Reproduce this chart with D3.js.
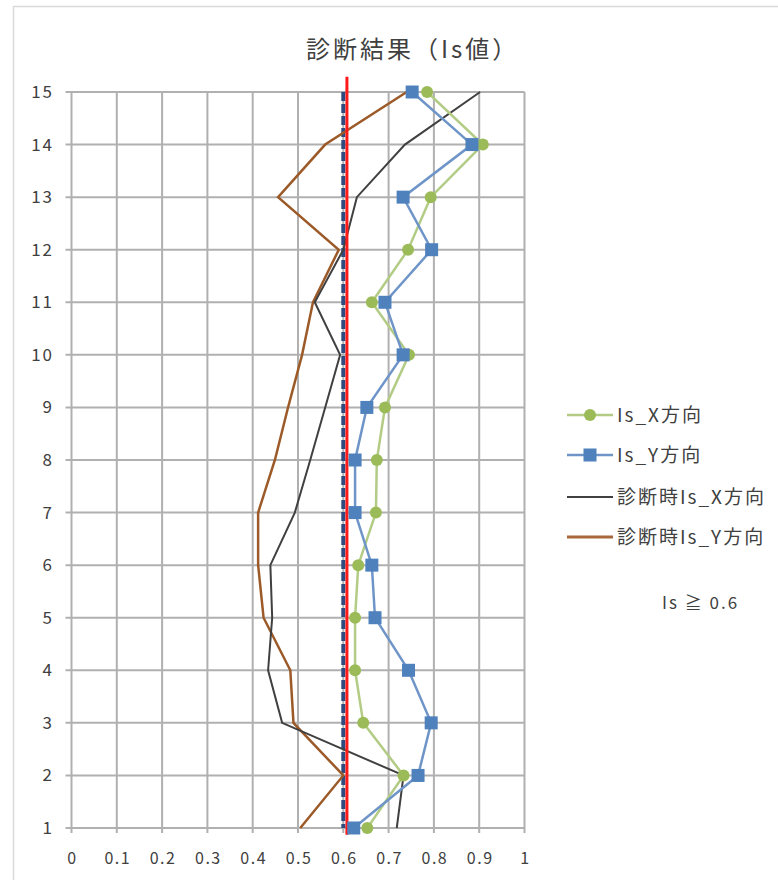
<!DOCTYPE html>
<html>
<head>
<meta charset="utf-8">
<script src="https://cdn.jsdelivr.net/npm/d3@7"></script>
<style>
  html, body { margin: 0; padding: 0; background: #fff; }
  svg { display: block; }
  text { font-family: "Noto Sans CJK JP", "Noto Sans", sans-serif; fill: #404040; }
</style>
</head>
<body>
<svg id="chart" width="778" height="880"></svg>
<script>
// Floor levels (vertical axis) and Is values per floor
const floors = [1, 2, 3, 4, 5, 6, 7, 8, 9, 10, 11, 12, 13, 14, 15];
const isX     = [0.653, 0.733, 0.644, 0.626, 0.626, 0.633, 0.672, 0.674, 0.692, 0.745, 0.663, 0.743, 0.793, 0.908, 0.785];
const isY     = [0.623, 0.765, 0.794, 0.744, 0.670, 0.663, 0.626, 0.626, 0.652, 0.732, 0.692, 0.795, 0.732, 0.884, 0.752];
const diagX   = [0.718, 0.733, 0.465, 0.434, 0.443, 0.439, 0.493, 0.527, 0.560, 0.593, 0.537, 0.600, 0.630, 0.736, 0.902];
const diagY   = [0.505, 0.600, 0.490, 0.483, 0.424, 0.412, 0.412, 0.449, 0.478, 0.509, 0.533, 0.590, 0.456, 0.560, 0.740];
const xTicks  = [0, 0.1, 0.2, 0.3, 0.4, 0.5, 0.6, 0.7, 0.8, 0.9, 1];
const xTickLabels = ["0", "0.1", "0.2", "0.3", "0.4", "0.5", "0.6", "0.7", "0.8", "0.9", "1"];
const threshold = 0.6;
const redLineX = 0.608;
const seriesNames = ["Is_X方向", "Is_Y方向", "診断時Is_X方向", "診断時Is_Y方向"];
const titleText = "診断結果（Is値）";
const noteText = "Is ≧ 0.6";

const svg = d3.select("#chart");

const x = d3.scaleLinear().domain([0, 1]).range([71.5, 524.5]);
const y = d3.scaleLinear().domain([1, 15]).range([828, 92]);

// outer chart frame
svg.append("rect")
  .attr("x", 13.5).attr("y", 6.5).attr("width", 790).attr("height", 900)
  .attr("fill", "none").attr("stroke", "#d9d9d9").attr("stroke-width", 1.5);

// title
svg.append("text")
  .attr("x", 306).attr("y", 58)
  .attr("font-size", 24)
  .attr("letter-spacing", 3)
  .text(titleText);

// grid
const grid = svg.append("g").attr("stroke", "#b0b0b0").attr("stroke-width", 2);
grid.selectAll("line.v").data(xTicks).join("line")
  .attr("class", "v")
  .attr("x1", d => x(d)).attr("x2", d => x(d))
  .attr("y1", y(15)).attr("y2", y(1) + 5);
grid.selectAll("line.h").data(floors).join("line")
  .attr("class", "h")
  .attr("x1", x(0) - 6).attr("x2", x(1))
  .attr("y1", d => y(d)).attr("y2", d => y(d));

// axis labels
svg.append("g").selectAll("text").data(xTicks).join("text")
  .attr("x", d => x(d) + 1).attr("y", 864)
  .attr("text-anchor", "middle")
  .attr("font-size", 16)
  .attr("letter-spacing", 1.5)
  .text((d, i) => xTickLabels[i]);
svg.append("g").selectAll("text").data(floors).join("text")
  .attr("x", 54).attr("y", d => y(d) + 6)
  .attr("text-anchor", "end")
  .attr("font-size", 17)
  .attr("letter-spacing", 2)
  .text(d => d);

// threshold line (dashed)
svg.append("line")
  .attr("x1", x(threshold)).attr("x2", x(threshold))
  .attr("y1", y(15)).attr("y2", y(1))
  .attr("stroke", "#2f4a7f").attr("stroke-width", 4)
  .attr("stroke-dasharray", "9,3");

const lineGen = vals => d3.line()
  .x((d, i) => x(vals[i]))
  .y(d => y(d))(floors);

// diagnosis-time lines
svg.append("path").attr("d", lineGen(diagY))
  .attr("fill", "none").attr("stroke", "#9c5a28").attr("stroke-width", 2.5);
svg.append("path").attr("d", lineGen(diagX))
  .attr("fill", "none").attr("stroke", "#404040").attr("stroke-width", 2);

// red reference line
svg.append("line")
  .attr("x1", x(redLineX)).attr("x2", x(redLineX))
  .attr("y1", y(15.29)).attr("y2", y(0.87))
  .attr("stroke", "#ff1a1a").attr("stroke-width", 3);

// Is_X series
svg.append("path").attr("d", lineGen(isX))
  .attr("fill", "none").attr("stroke", "#b3cc85").attr("stroke-width", 2.5);
svg.append("g").selectAll("circle").data(floors).join("circle")
  .attr("cx", (d, i) => x(isX[i])).attr("cy", d => y(d)).attr("r", 6)
  .attr("fill", "#9bbb59");

// Is_Y series
svg.append("path").attr("d", lineGen(isY))
  .attr("fill", "none").attr("stroke", "#6f95c8").attr("stroke-width", 2.5);
svg.append("g").selectAll("rect").data(floors).join("rect")
  .attr("x", (d, i) => x(isY[i]) - 6.5).attr("y", d => y(d) - 6.5)
  .attr("width", 13).attr("height", 13)
  .attr("fill", "#4f81bd");

// legend
const legendRows = [415, 455, 497, 537];
const lg = svg.append("g");
const lx0 = 567, lx1 = 613, lmid = 590;
lg.append("line").attr("x1", lx0).attr("x2", lx1).attr("y1", legendRows[0]).attr("y2", legendRows[0])
  .attr("stroke", "#b3cc85").attr("stroke-width", 2.5);
lg.append("circle").attr("cx", lmid).attr("cy", legendRows[0]).attr("r", 6).attr("fill", "#9bbb59");
lg.append("line").attr("x1", lx0).attr("x2", lx1).attr("y1", legendRows[1]).attr("y2", legendRows[1])
  .attr("stroke", "#6f95c8").attr("stroke-width", 2.5);
lg.append("rect").attr("x", lmid - 6.5).attr("y", legendRows[1] - 6.5).attr("width", 13).attr("height", 13).attr("fill", "#4f81bd");
lg.append("line").attr("x1", lx0).attr("x2", lx1).attr("y1", legendRows[2]).attr("y2", legendRows[2])
  .attr("stroke", "#404040").attr("stroke-width", 2);
lg.append("line").attr("x1", lx0).attr("x2", lx1).attr("y1", legendRows[3]).attr("y2", legendRows[3])
  .attr("stroke", "#a8683a").attr("stroke-width", 3);
lg.selectAll("text").data(seriesNames).join("text")
  .attr("x", 617).attr("y", (d, i) => legendRows[i] + 7)
  .attr("font-size", 19)
  .attr("letter-spacing", 2)
  .text(d => d);

svg.append("text")
  .attr("x", 662).attr("y", 609)
  .attr("font-size", 17)
  .attr("letter-spacing", 2)
  .text(noteText);
</script>
</body>
</html>
